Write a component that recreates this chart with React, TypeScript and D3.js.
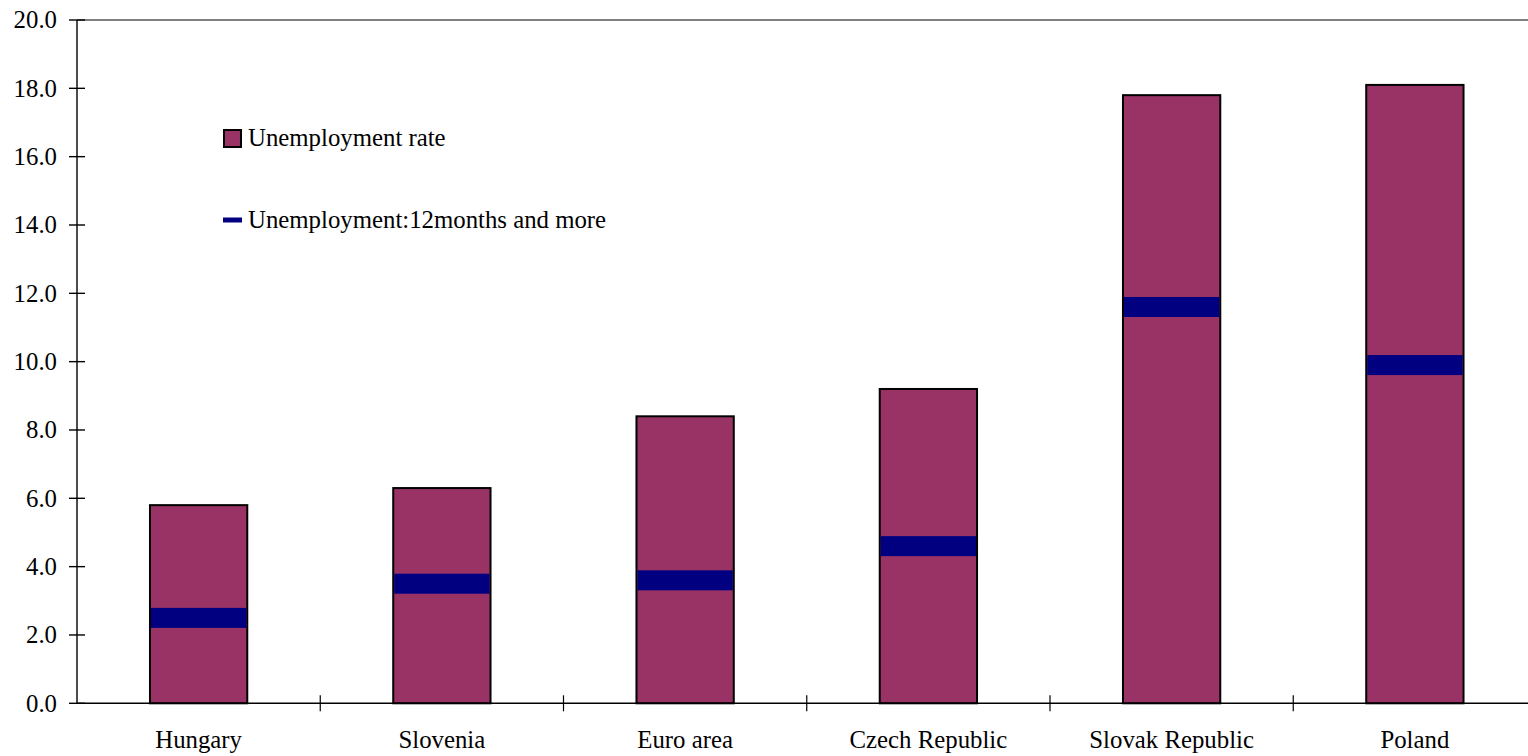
import React from "react";
import * as d3 from "d3";

const countries = ["Hungary", "Slovenia", "Euro area", "Czech Republic", "Slovak Republic", "Poland"];
const unemploymentRate = [5.8, 6.3, 8.4, 9.2, 17.8, 18.1];
const longTermUnemployment = [2.5, 3.5, 3.6, 4.6, 11.6, 9.9];
const yTicks = [0, 2, 4, 6, 8, 10, 12, 14, 16, 18, 20];
const legendLabels = ["Unemployment rate", "Unemployment:12months and more"];

const W = 1528;
const H = 756;
const left = 77;
const top = 20;
const bottom = 703.3;
const right = left + 6 * 243.25;

const FONT = "Liberation Serif";
const FS = 24.8;
const BAR = "#993366";
const NAVY = "#000080";

export default function App() {
  const x = d3.scaleBand<string>().domain(countries).range([left, right]).paddingInner(0).paddingOuter(0);
  const y = d3.scaleLinear().domain([0, 20]).range([bottom, top]);
  const step = x.step();
  const barW = step * 0.4;
  const fmt = d3.format(".1f");
  const markerH = 20;
  const textStyle = { fontFamily: FONT, fontSize: FS };

  return (
    <svg
      width={W}
      height={H}
      viewBox={`0 0 ${W} ${H}`}
      style={{ position: "fixed", left: 0, top: 0, background: "#fff" }}
    >
      {/* top frame line */}
      <line x1={left} x2={right} y1={y(20)} y2={y(20)} stroke="#808080" strokeWidth={2} />

      {/* bars with long-term markers */}
      {countries.map((c, i) => {
        const cx = (x(c) as number) + step / 2;
        return (
          <g key={c}>
            <rect
              x={cx - barW / 2}
              y={y(unemploymentRate[i])}
              width={barW}
              height={y(0) - y(unemploymentRate[i])}
              fill={BAR}
              stroke="#000"
              strokeWidth={2}
            />
            <rect
              x={cx - barW / 2 + 1}
              y={y(longTermUnemployment[i]) - markerH / 2}
              width={barW - 2}
              height={markerH}
              fill={NAVY}
            />
          </g>
        );
      })}

      {/* y axis */}
      <line x1={left} x2={left} y1={y(20)} y2={y(0)} stroke="#000" strokeWidth={1.4} />
      {yTicks.map((t) => (
        <g key={t}>
          <line x1={left - 8} x2={left + 8} y1={y(t)} y2={y(t)} stroke="#000" strokeWidth={1.4} />
          <text x={57} y={y(t)} dy="0.34em" textAnchor="end" style={textStyle} fill="#000">
            {fmt(t)}
          </text>
        </g>
      ))}

      {/* x axis */}
      <line x1={left} x2={right} y1={y(0)} y2={y(0)} stroke="#000" strokeWidth={1.4} />
      {countries.slice(1).map((c) => (
        <line
          key={c}
          x1={x(c) as number}
          x2={x(c) as number}
          y1={y(0) - 8}
          y2={y(0) + 8}
          stroke="#000"
          strokeWidth={1.2}
        />
      ))}
      {countries.map((c) => (
        <text
          key={c}
          x={(x(c) as number) + step / 2}
          y={748}
          textAnchor="middle"
          style={textStyle}
          fill="#000"
        >
          {c}
        </text>
      ))}

      {/* legend */}
      <rect x={224} y={130} width={17} height={17} fill={BAR} stroke="#000" strokeWidth={2} />
      <text x={248} y={146} style={textStyle} fill="#000">
        {legendLabels[0]}
      </text>
      <line x1={223} x2={242} y1={220} y2={220} stroke={NAVY} strokeWidth={5} />
      <text x={248} y={228} style={textStyle} fill="#000">
        {legendLabels[1]}
      </text>
    </svg>
  );
}
